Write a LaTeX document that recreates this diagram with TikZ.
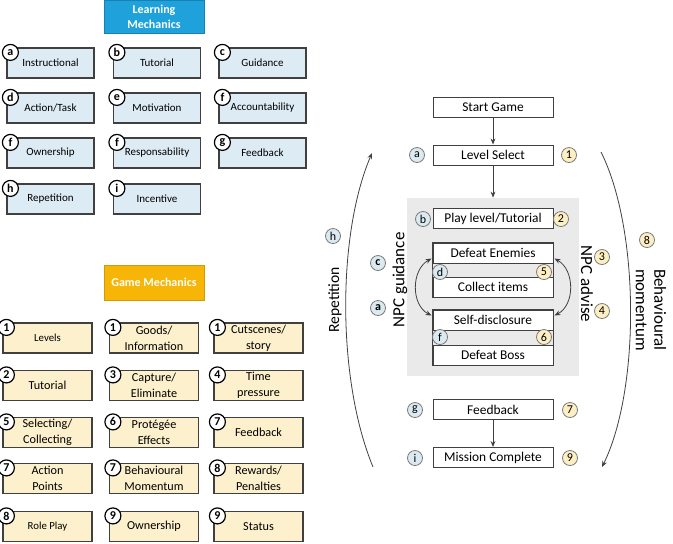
\documentclass[tikz,border=0pt]{standalone}
\usepackage{fontspec}
\setmainfont{Carlito}
\usepackage{tikz}
\usetikzlibrary{arrows.meta,positioning,calc}
\definecolor{lmhead}{HTML}{1FA1DB}
\definecolor{gmhead}{HTML}{F6B507}
\definecolor{lmfill}{HTML}{DDEBF4}
\definecolor{gmfill}{HTML}{FDF0CC}
\definecolor{ink}{HTML}{404040}
\definecolor{panel}{HTML}{EAEAEA}
\definecolor{tagb}{HTML}{DBE9F1}
\definecolor{tagy}{HTML}{FCEFC4}
\tikzset{lmbox/.style={draw=ink, fill=lmfill, line width=0.6pt, minimum width=43.5pt, minimum height=15pt, inner sep=0pt, align=center, font=\fontsize{5.5}{6.5}\selectfont},
         gmbox/.style={lmbox, fill=gmfill, minimum width=44.5pt, font=\fontsize{6.1}{8}\selectfont},
         head/.style={minimum width=50pt, inner sep=0pt, align=center, text=white, font=\fontsize{6}{7.5}\selectfont\bfseries},
         ltag/.style={circle, draw=black, fill=white, line width=0.6pt, inner sep=0pt, minimum size=8pt, font=\fontsize{6}{6.5}\selectfont\bfseries},
         flowbox/.style={draw=ink, fill=white, line width=0.5pt, minimum width=60pt, minimum height=10pt, inner sep=0pt, font=\fontsize{6.7}{8}\selectfont},
         btag/.style={circle, draw=ink!70, fill=tagb, line width=0.4pt, inner sep=0pt, minimum size=7.5pt, font=\fontsize{6}{7}\selectfont},
         ytag/.style={btag, fill=tagy},
         arr/.style={-{Stealth[length=3pt,width=2.4pt]}, line width=0.4pt, ink},
         darr/.style={{Stealth[length=3pt,width=2.4pt]}-{Stealth[length=3pt,width=2.4pt]}, line width=0.4pt, ink}}
\begin{document}
\begin{tikzpicture}[x=0.5pt,y=-0.5pt]
\useasboundingbox (0,0) rectangle (673,543);
% learning mechanics
\node[head, fill=lmhead, draw=lmhead!80!black, minimum height=16.5pt] (lmh) at (154,16.5) {Learning\\Mechanics};
\foreach \i/\x/\y/\t/\txt in {1/50.5/63/a/Instructional, 2/157/63/b/Tutorial, 3/262.5/63/c/Guidance,
  4/50.5/108/d/{Action/Task}, 5/157/108/e/Motivation, 6/262.5/108/f/Accountability,
  7/50.5/153/f/Ownership, 8/157/153/f/Responsability, 9/262.5/153/g/Feedback,
  10/50.5/199/h/Repetition, 11/157/199/i/Incentive}
{\node[lmbox] (lm\i) at (\x,\y) {\txt}; \node[ltag] (lmt\i) at ($(lm\i.north west)+(4,5)$) {\t};}
% game mechanics
\node[head, fill=gmhead, draw=gmhead!85!black, minimum height=17.5pt] (gmh) at (154,282.5) {Game Mechanics};
\foreach \i/\x/\y/\t/\txt in {1/47.5/338/1/{\fontsize{5.4}{6}\selectfont Levels}, 2/154/338/1/{Goods/\\Information}, 3/258.5/338/1/{Cutscenes/\\story},
  4/47.5/385.5/2/Tutorial, 5/154/385.5/3/{Capture/\\Eliminate}, 6/258.5/385.5/4/{Time\\pressure},
  7/47.5/432.5/5/{Selecting/\\Collecting}, 8/154/432.5/6/{Protégée\\Effects}, 9/258.5/432.5/7/Feedback,
  10/47.5/478.5/7/{Action\\Points}, 11/154/478.5/7/{Behavioural\\Momentum}, 12/258.5/478.5/8/{Rewards/\\Penalties},
  13/47.5/526.5/8/{\fontsize{5.4}{6}\selectfont Role Play}, 14/154/526.5/9/Ownership, 15/258.5/526.5/9/Status}
{\node[gmbox] (gm\i) at (\x,\y) {\txt}; \node[ltag] (gmt\i) at ($(gm\i.north west)+(4,5)$) {\t};}
% game flow
\node[fill=panel, minimum width=86pt, minimum height=89pt, inner sep=0pt] (pnl) at (493,287) {};
\node[flowbox] (start) at (493,107) {Start Game};
\node[flowbox] (lvl) at (493,155) {Level Select};
\node[flowbox] (play) at (493,218.5) {Play level/Tutorial};
\node[flowbox] (enemy) at (493,253) {Defeat Enemies};
\node[flowbox] (collect) at (493,287) {Collect items};
\node[flowbox] (self) at (493,320) {Self-disclosure};
\node[flowbox] (boss) at (493,355) {Defeat Boss};
\node[flowbox] (fb) at (493,409.5) {Feedback};
\node[flowbox] (done) at (493,457.5) {Mission Complete};
\draw[ink, line width=0.5pt] (enemy.north west) rectangle (collect.south east);
\draw[ink, line width=0.5pt] (self.north west) rectangle (boss.south east);
\draw[arr] (start) -- (lvl);
\draw[arr] (lvl) -- (pnl.north);
\draw[arr] (fb) -- (done);
\draw[darr] ($(enemy.south west)+(-1,-5)$) .. controls (411,270) and (411,305) .. ($(self.north west)+(-1,6)$);
\draw[darr] ($(enemy.south east)+(1,-5)$) .. controls (575,270) and (575,305) .. ($(self.north east)+(1,6)$);
% tags
\node[btag] (ta) at (417,155) {a}; \node[ytag] (t1) at (569,155) {1};
\node[btag] (tb) at (423,219) {b}; \node[ytag] (t2) at (561,219) {2};
\node[btag] (td) at (440,272) {d}; \node[ytag] (t5) at (544,272) {5};
\node[btag] (tf) at (440,337) {f}; \node[ytag] (t6) at (544,337) {6};
\node[btag] (tg) at (415,410) {g}; \node[ytag] (t7) at (570,410) {7};
\node[btag] (ti) at (415,458) {i}; \node[ytag] (t9) at (570,458) {9};
\node[btag, font=\fontsize{6}{7}\selectfont\bfseries] (tc) at (378,263) {c};
\node[btag, font=\fontsize{6}{7}\selectfont\bfseries] (ta2) at (378,308) {a};
\node[ytag] (t3) at (602,257) {3}; \node[ytag] (t4) at (602,311) {4};
\node[btag] (th) at (333,236) {h}; \node[ytag] (t8) at (647,240) {8};
% side labels
\node[rotate=90, font=\fontsize{8.5}{9.5}\selectfont] (npcg) at (400,280) {NPC guidance};
\node[rotate=-90, font=\fontsize{8.5}{9.5}\selectfont] (npca) at (587,284) {NPC advise};
\node[rotate=90, font=\fontsize{7.8}{9}\selectfont] (rep) at (335,300) {Repetition};
\node[rotate=-90, align=center, font=\fontsize{8.5}{9.3}\selectfont] (beh) at (651,310) {Behavioural\\momentum};
% outer loops
\coordinate (repA) at (373,467); \coordinate (repB) at (372,153);
\draw[arr] (repA) .. controls (337,380) and (337,235) .. (repB);
\coordinate (bmA) at (601,152); \coordinate (bmB) at (602,467);
\draw[arr] (bmA) .. controls (640,230) and (640,390) .. (bmB);
\end{tikzpicture}
\end{document}
